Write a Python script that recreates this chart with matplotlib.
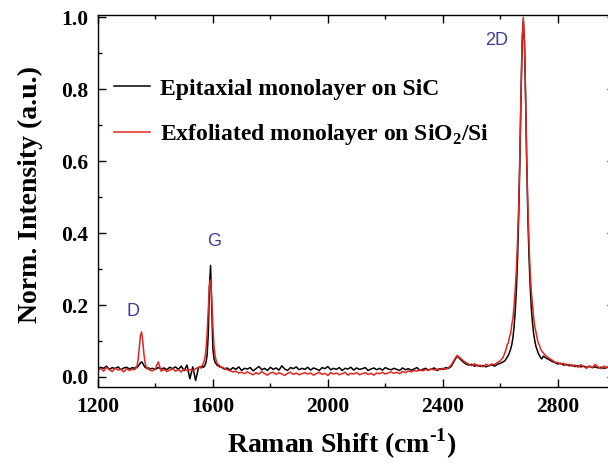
import numpy as np
import matplotlib
matplotlib.use("Agg")
import matplotlib.pyplot as plt
from matplotlib.ticker import MultipleLocator

plt.rcParams['font.family'] = ['Liberation Serif', 'DejaVu Serif']
plt.rcParams['font.weight'] = 'bold'
plt.rcParams['axes.labelweight'] = 'bold'
plt.rcParams['mathtext.fontset'] = 'custom'
plt.rcParams['mathtext.rm'] = 'Liberation Serif:bold'
plt.rcParams['mathtext.bf'] = 'Liberation Serif:bold'

# wavenumber grid, finer around the peaks (cm-1)
shift_segments = [
    np.arange(1200, 1330, 10),   # baseline
    np.arange(1328, 1384, 4),    # D
    np.arange(1390, 1560, 10),   # baseline
    np.arange(1556, 1628, 4),    # G
    np.arange(1630, 2620, 10),   # baseline + 2450 bump
    np.arange(2616, 2748, 4),    # 2D
    np.arange(2750, 3010, 10),   # baseline
]

# epitaxial monolayer on SiC (black)
epi_1 = [0.022, 0.027, 0.024, 0.030, 0.021, 0.026, 0.023, 0.028, 0.020, 0.025, 0.027, 0.022, 0.026]
epi_2 = [0.024, 0.027, 0.026, 0.030, 0.034, 0.039, 0.042, 0.038, 0.032, 0.027, 0.025, 0.023, 0.026, 0.022]
epi_3 = [0.024, 0.021, 0.026, 0.022, 0.025, 0.020, 0.027, 0.023, 0.028, 0.021, 0.030, 0.018, 0.033,
         -0.005, 0.028, -0.010, 0.026]
epi_4 = [0.028, 0.025, 0.030, 0.027, 0.032, 0.040, 0.060, 0.120, 0.250, 0.310, 0.190, 0.080,
         0.050, 0.040, 0.036, 0.031, 0.034, 0.029]
epi_5 = [0.027, 0.022, 0.025, 0.019, 0.026, 0.021, 0.028, 0.018, 0.024, 0.022,
         0.026, 0.017, 0.023, 0.029, 0.020, 0.024, 0.018, 0.027, 0.021, 0.025,
         0.019, 0.031, 0.022, 0.018, 0.026, 0.023, 0.028, 0.020, 0.024, 0.021,
         0.027, 0.019, 0.025, 0.022, 0.018, 0.026, 0.023, 0.029, 0.020, 0.024,
         0.021, 0.026, 0.018, 0.024, 0.022, 0.027, 0.019, 0.025, 0.021, 0.023,
         0.026, 0.018, 0.022, 0.025, 0.020, 0.024, 0.019, 0.026, 0.022, 0.020,
         0.024, 0.021, 0.018, 0.025, 0.020, 0.023, 0.019, 0.022, 0.026, 0.018,
         0.021, 0.024, 0.019, 0.022, 0.025, 0.018, 0.023, 0.021, 0.026, 0.024,
         0.030, 0.045, 0.058, 0.050, 0.042, 0.036, 0.033, 0.035, 0.030, 0.033,
         0.029, 0.032, 0.028, 0.031, 0.034, 0.030, 0.035, 0.038, 0.042]
epi_6 = [0.045, 0.050, 0.055, 0.060, 0.068, 0.078, 0.090, 0.110, 0.140, 0.185, 0.245, 0.330,
         0.450, 0.600, 0.780, 0.930, 0.990, 0.930, 0.770, 0.590, 0.440, 0.330, 0.250, 0.190,
         0.150, 0.120, 0.100, 0.085, 0.075, 0.066, 0.060, 0.054, 0.050]
epi_7 = [0.058, 0.052, 0.048, 0.043, 0.040, 0.036, 0.038, 0.033, 0.035, 0.031, 0.033, 0.029, 0.031,
         0.028, 0.030, 0.027, 0.029, 0.026, 0.028, 0.025, 0.027, 0.024, 0.026, 0.028, 0.025, 0.027]

# exfoliated monolayer on SiO2/Si (red)
exf_1 = [0.018, 0.024, 0.016, 0.027, 0.020, 0.015, 0.025, 0.019, 0.022, 0.014, 0.023, 0.018, 0.021]
exf_2 = [0.020, 0.024, 0.030, 0.048, 0.080, 0.115, 0.125, 0.100, 0.065, 0.040, 0.028, 0.022, 0.025, 0.019]
exf_3 = [0.017, 0.022, 0.042, 0.016, 0.021, 0.015, 0.019, 0.023, 0.016, 0.020, 0.014, 0.022, 0.018,
         0.021, 0.016, 0.023, 0.027]
exf_4 = [0.026, 0.030, 0.033, 0.040, 0.052, 0.075, 0.120, 0.190, 0.255, 0.270, 0.220, 0.140,
         0.085, 0.058, 0.044, 0.036, 0.030, 0.027]
exf_5 = [0.028, 0.024, 0.020, 0.017, 0.014, 0.016, 0.011, 0.013, 0.009, 0.014,
         0.010, 0.006, 0.012, 0.008, 0.015, 0.009, 0.005, 0.011, 0.013, 0.007,
         0.012, 0.008, 0.004, 0.010, 0.013, 0.007, 0.011, 0.006, 0.009, 0.012,
         0.008, 0.011, 0.005, 0.009, 0.013, 0.007, 0.010, 0.004, 0.012, 0.008,
         0.011, 0.006, 0.009, 0.013, 0.005, 0.010, 0.008, 0.012, 0.006, 0.009,
         0.012, 0.007, 0.010, 0.005, 0.011, 0.009, 0.013, 0.008, 0.011, 0.014,
         0.010, 0.013, 0.009, 0.015, 0.012, 0.017, 0.014, 0.018, 0.016, 0.020,
         0.017, 0.021, 0.018, 0.023, 0.019, 0.022, 0.020, 0.024, 0.021, 0.026,
         0.034, 0.048, 0.060, 0.053, 0.046, 0.040, 0.036, 0.031, 0.037, 0.030,
         0.033, 0.028, 0.035, 0.031, 0.036, 0.034, 0.040, 0.045, 0.055]
exf_6 = [0.068, 0.076, 0.090, 0.094, 0.112, 0.121, 0.146, 0.165, 0.200, 0.245, 0.300, 0.380,
         0.480, 0.620, 0.790, 0.940, 1.000, 0.930, 0.780, 0.600, 0.470, 0.370, 0.290, 0.235,
         0.200, 0.165, 0.140, 0.125, 0.108, 0.095, 0.088, 0.078, 0.072]
exf_7 = [0.066, 0.058, 0.052, 0.047, 0.041, 0.040, 0.036, 0.038, 0.032, 0.035, 0.030, 0.033, 0.027,
         0.034, 0.029, 0.024, 0.031, 0.026, 0.035, 0.028, 0.023, 0.030, 0.026, 0.033, 0.027, 0.030]

series_labels = ['Epitaxial monolayer on SiC',
                 r'Exfoliated monolayer on SiO$_\mathbf{2}$/Si']
peak_names = ['D', 'G', '2D']
peak_label_pos = [(1322, 0.183), (1603, 0.377), (2588, 0.935)]

shift = np.concatenate(shift_segments)
epitaxial = np.concatenate([epi_1, epi_2, epi_3, epi_4, epi_5, epi_6, epi_7])
exfoliated = np.concatenate([exf_1, exf_2, exf_3, exf_4, exf_5, exf_6, exf_7])
assert len(shift) == len(epitaxial) == len(exfoliated)

fig = plt.figure(figsize=(6.08, 4.66), dpi=100)
ax = fig.add_axes([0.161, 0.1695, 0.851, 0.798])

ax.plot(shift, epitaxial, color='black', lw=1.1, label=series_labels[0])
ax.plot(shift, exfoliated, color='#e0261f', lw=1.1, label=series_labels[1])

for name, (px, py) in zip(peak_names, peak_label_pos):
    ax.text(px, py, name, color='#3c3f95', fontsize=13, fontweight='normal',
            family=['Liberation Sans', 'DejaVu Sans'], ha='center', va='center')

ax.set_xlim(1200, 3000)
ax.set_ylim(-0.028, 1.006)
ax.xaxis.set_major_locator(MultipleLocator(400))
ax.xaxis.set_minor_locator(MultipleLocator(200))
ax.yaxis.set_major_locator(MultipleLocator(0.2))
ax.yaxis.set_minor_locator(MultipleLocator(0.1))
ax.yaxis.set_major_formatter(matplotlib.ticker.FormatStrFormatter('%.1f'))
ax.tick_params(which='both', direction='in', top=True, right=True, width=1.0)
ax.tick_params(which='major', length=6, labelsize=15.5, pad=7)
ax.tick_params(which='minor', length=3)
for sp in ax.spines.values():
    sp.set_linewidth(1.0)

# the figure is cropped on the right, so labels sit left of the axes centre
ax.set_xlabel(r'Raman Shift (cm$^{\text{-1}}$)', fontsize=20, labelpad=7, x=0.472)
ax.set_ylabel('Norm. Intensity (a.u.)', fontsize=20, labelpad=13, y=0.519)

ax.legend(loc='upper left', bbox_to_anchor=(0.0, 0.875), frameon=False,
          fontsize=17, handlelength=1.5, handletextpad=0.45, labelspacing=0.95,
          borderaxespad=0.3)

fig.savefig('out.png', dpi=100)
